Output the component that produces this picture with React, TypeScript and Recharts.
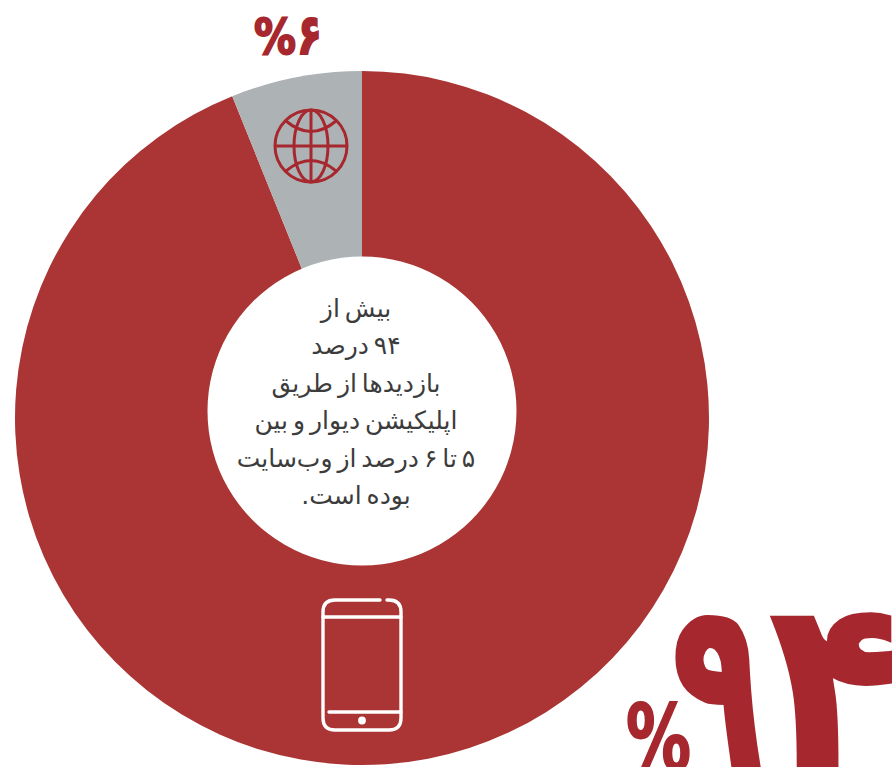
import { Cell, Pie, PieChart } from "recharts";

const SEGMENTS = ["اپلیکیشن", "وب‌سایت"];
const VALUES = [93.9, 6.1];
const SEGMENT_COLORS = ["#ab3535", "#adb2b5"];
const HOLE = [{ name: "hole", value: 1 }];
const BIG_DIGITS = ["۹", "۴"];
const SMALL_LABEL = "۶";
const PERCENT = "%";
const CENTER_LINES = [
  "بیش از",
  "۹۴ درصد",
  "بازدیدها از طریق",
  "اپلیکیشن دیوار و بین",
  "۵ تا ۶ درصد از وب‌سایت",
  "بوده است.",
];

const ACCENT = "#a6282e";
const data = SEGMENTS.map((name, i) => ({ name, value: VALUES[i] }));

// Pie paints above chart children, so icons and text sit in a second svg on top
function Overlay() {
  return (
    <svg width={892} height={767} style={{ position: "absolute", left: 0, top: 0 }}>
      <g fill="none" stroke={ACCENT} strokeWidth={3}>
        <circle cx={311} cy={146} r={36} />
        <ellipse cx={311} cy={146} rx={17} ry={36} />
        <path d="M311 110V182M275 146H347" />
        <path d="M286 121Q311 142 336 121M286 171Q311 150 336 171" />
      </g>
      <g fill="none" stroke="#fff" strokeWidth={3.4} strokeLinecap="round">
        <path d="M380 600H335Q323 600 323 612V718Q323 730 335 730H389Q401 730 401 718V612Q401 600 389 600H387" />
        <path d="M323 617H401M329 712H401" />
        <circle cx={362} cy={720.5} r={2.2} fill="#fff" />
      </g>
      <text
        textAnchor="middle"
        fill="#3c3c3c"
        fontFamily="'DejaVu Sans'"
        fontSize={25}
        wordSpacing={-3}
        direction="rtl"
      >
        {CENTER_LINES.map((line, i) => (
          <tspan key={i} x={356} y={317 + i * 37.4}>
            {line}
          </tspan>
        ))}
      </text>
      <g fill={ACCENT} stroke={ACCENT} fontFamily="'DejaVu Sans'" fontWeight={700}>
        <text x={254} y={54} fontSize={50} strokeWidth={2} textLength={42} lengthAdjust="spacingAndGlyphs">{PERCENT}</text>
        <text x={297} y={54} fontSize={56} strokeWidth={2} textLength={25} lengthAdjust="spacingAndGlyphs">{SMALL_LABEL}</text>
        <text x={626} y={770} fontSize={90} strokeWidth={2} textLength={65} lengthAdjust="spacingAndGlyphs">{PERCENT}</text>
        <text x={672} y={765} fontSize={232} strokeWidth={4} textLength={90} lengthAdjust="spacingAndGlyphs">{BIG_DIGITS[0]}</text>
        <text x={770} y={765} fontSize={232} strokeWidth={4} textLength={134} lengthAdjust="spacingAndGlyphs">{BIG_DIGITS[1]}</text>
      </g>
    </svg>
  );
}

export default function App() {
  return (
    <div style={{ position: "absolute", left: 0, top: 0, width: 892, height: 767, overflow: "hidden" }}>
      <PieChart width={892} height={767} margin={{ top: 0, right: 0, bottom: 0, left: 0 }}>
        <Pie
          data={data}
          dataKey="value"
          nameKey="name"
          cx={362}
          cy={418}
          innerRadius={0}
          outerRadius={347}
          startAngle={90}
          endAngle={-270}
          stroke="none"
          isAnimationActive={false}
        >
          {data.map((_, i) => (
            <Cell key={i} fill={SEGMENT_COLORS[i]} />
          ))}
        </Pie>
        {/* the hole is off-centre in the original, 7px above the ring centre */}
        <Pie
          data={HOLE}
          dataKey="value"
          cx={362}
          cy={411}
          innerRadius={0}
          outerRadius={154.5}
          fill="#fff"
          stroke="none"
          isAnimationActive={false}
        />
      </PieChart>
      <Overlay />
    </div>
  );
}
